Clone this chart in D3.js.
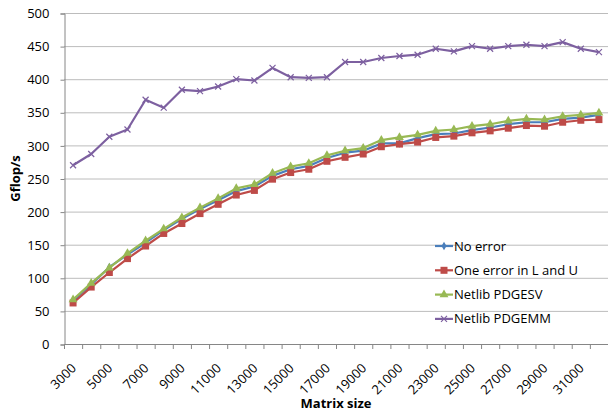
<!DOCTYPE html>
<html>
<head>
<meta charset="utf-8">
<script src="https://cdn.jsdelivr.net/npm/d3@7"></script>
<style>
  body { margin: 0; background: #fff; }
  svg { font-family: "Open Sans", sans-serif; }
</style>
</head>
<body>
<svg></svg>
<script>
var sizes = [3000, 4000, 5000, 6000, 7000, 8000, 9000, 10000, 11000, 12000,
  13000, 14000, 15000, 16000, 17000, 18000, 19000, 20000, 21000, 22000,
  23000, 24000, 25000, 26000, 27000, 28000, 29000, 30000, 31000, 32000];

var noError = [65, 90, 116, 135, 153, 172, 189, 204, 217, 231, 238, 254, 264, 269, 281,
  289, 292, 303, 303, 311, 317, 318, 323, 327, 332, 335, 335, 340, 342, 346];
var oneError = [62, 86, 108, 129, 148, 167, 182, 197, 211, 225, 232, 249, 259, 264, 276,
  282, 287, 298, 302, 305, 312, 314, 319, 322, 326, 330, 329, 335, 338, 339];
var pdgesv = [67, 92, 115, 137, 156, 174, 191, 206, 220, 235, 241, 258, 268, 273, 285,
  292, 296, 308, 312, 316, 322, 324, 329, 332, 337, 340, 339, 344, 346, 349];
var pdgemm = [270, 287, 313, 324, 369, 357, 384, 382, 389, 400, 398, 417, 403, 402, 403,
  426, 426, 432, 435, 437, 446, 442, 450, 446, 450, 452, 450, 456, 446, 441];

var yTicks = [0, 50, 100, 150, 200, 250, 300, 350, 400, 450, 500];
var xLabels = sizes.filter((d, i) => i % 2 === 0);

var seriesNames = ["No error", "One error in L and U", "Netlib PDGESV", "Netlib PDGEMM"];

var width = 608, height = 415;
var plotLeft = 64, plotRight = 608, plotTop = 13, plotBottom = 344;

var svg = d3.select("svg").attr("width", width).attr("height", height);

var x = d3.scaleBand().domain(sizes).range([plotLeft, plotRight]).padding(0);
var y = d3.scaleLinear().domain([0, 500]).range([plotBottom, plotTop]);

// gridlines
svg.append("g")
  .selectAll("line")
  .data(yTicks.filter(d => d > 0))
  .enter()
  .append("line")
    .attr("x1", plotLeft).attr("x2", plotRight)
    .attr("y1", d => y(d) + 0.5).attr("y2", d => y(d) + 0.5)
    .attr("stroke", "#bcbcbc")
    .attr("stroke-width", 1);

// y axis
var yAxis = d3.axisLeft(y).tickValues(yTicks).tickSize(4).tickPadding(11);
var gy = svg.append("g")
  .attr("transform", "translate(" + (plotLeft + 0.5) + ",0.5)")
  .call(yAxis);
gy.select(".domain").attr("stroke", "#868686");
gy.selectAll(".tick line").attr("stroke", "#868686");
gy.selectAll("text").attr("font-size", 13).attr("fill", "#000").attr("font-family", "Open Sans");

// x axis line and boundary ticks
svg.append("line")
  .attr("x1", plotLeft).attr("x2", plotRight)
  .attr("y1", plotBottom + 0.5).attr("y2", plotBottom + 0.5)
  .attr("stroke", "#868686");

svg.append("g")
  .selectAll("line")
  .data(sizes.concat(["end"]))
  .enter()
  .append("line")
    .attr("x1", d => (d === "end" ? plotRight : x(d)) + 0.5)
    .attr("x2", d => (d === "end" ? plotRight : x(d)) + 0.5)
    .attr("y1", plotBottom)
    .attr("y2", plotBottom + 5)
    .attr("stroke", "#868686");

var xAxis = d3.axisBottom(x).tickValues(xLabels).tickSize(0).tickPadding(0);
var gx = svg.append("g")
  .attr("transform", "translate(0," + plotBottom + ")")
  .call(xAxis);
gx.select(".domain").remove();
gx.selectAll("text")
  .attr("font-size", 13)
  .attr("font-family", "Open Sans")
  .attr("fill", "#000")
  .attr("text-anchor", "end")
  .attr("dy", null)
  .attr("y", 0)
  .attr("transform", "translate(4,25) rotate(-45)");

// axis titles
svg.append("text")
  .text("Gflop/s")
  .attr("transform", "translate(20," + ((plotTop + plotBottom) / 2) + ") rotate(-90)")
  .attr("text-anchor", "middle")
  .attr("font-size", 13)
  .attr("font-weight", "bold");

svg.append("text")
  .text("Matrix size")
  .attr("x", (plotLeft + plotRight) / 2)
  .attr("y", 408)
  .attr("text-anchor", "middle")
  .attr("font-size", 13)
  .attr("font-weight", "bold");

// series
var colors = ["#4a7ebb", "#be4b48", "#98b954", "#7d60a0"];
var allSeries = [noError, oneError, pdgesv, pdgemm];
var markers = ["diamond", "square", "triangle", "x"];

var line = d3.line()
  .x((d, i) => x(sizes[i]) + x.bandwidth() / 2)
  .y(d => y(d));

function drawMarker(g, type, color) {
  if (type === "diamond") {
    g.append("path").attr("d", d3.symbol(d3.symbolDiamond, 22)()).attr("fill", color);
  } else if (type === "square") {
    g.append("rect").attr("x", -3.5).attr("y", -3.5).attr("width", 7).attr("height", 7)
      .attr("fill", color);
  } else if (type === "triangle") {
    g.append("path").attr("d", d3.symbol(d3.symbolTriangle, 34)()).attr("fill", color);
  } else {
    g.append("path").attr("d", "M-3,-3L3,3M-3,3L3,-3")
      .attr("stroke", color).attr("stroke-width", 1.2).attr("fill", "none");
  }
}

allSeries.forEach(function(vals, k) {
  svg.append("path")
    .datum(vals)
    .attr("d", line)
    .attr("fill", "none")
    .attr("stroke", colors[k])
    .attr("stroke-width", 2.2)
    .attr("stroke-linejoin", "round");

  svg.append("g")
    .selectAll("g")
    .data(vals)
    .enter()
    .append("g")
      .attr("transform", (d, i) => "translate(" + (x(sizes[i]) + x.bandwidth() / 2) + "," + y(d) + ")")
      .each(function() { drawMarker(d3.select(this), markers[k], colors[k]); });
});

// legend
var legend = svg.append("g").attr("transform", "translate(435,246)");
seriesNames.forEach(function(name, k) {
  var row = legend.append("g").attr("transform", "translate(0," + (k * 24.3) + ")");
  row.append("line")
    .attr("x1", 0).attr("x2", 18)
    .attr("stroke", colors[k]).attr("stroke-width", 2.2);
  drawMarker(row.append("g").attr("transform", "translate(9,0)"), markers[k], colors[k]);
  row.append("text")
    .text(name)
    .attr("x", 19)
    .attr("y", 4.5)
    .attr("font-size", 13);
});
</script>
</body>
</html>
